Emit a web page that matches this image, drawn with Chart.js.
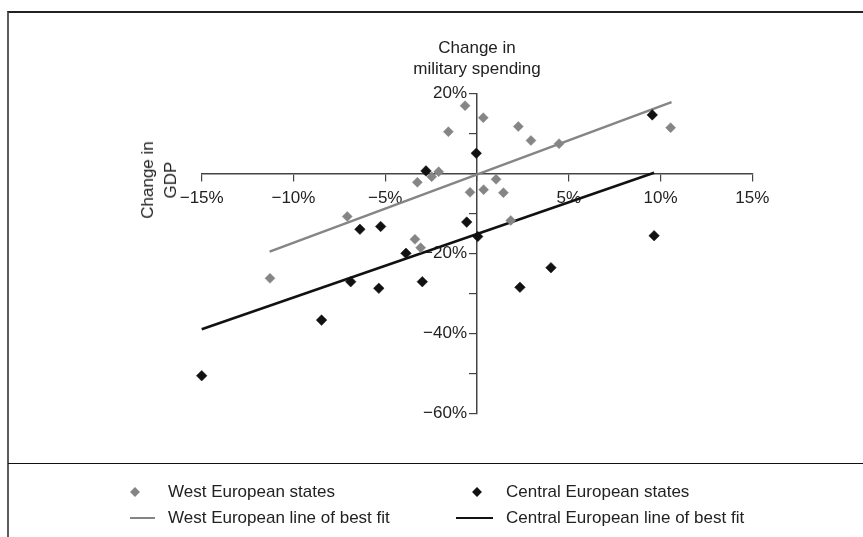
<!DOCTYPE html>
<html>
<head>
<meta charset="utf-8">
<script src="https://cdn.jsdelivr.net/npm/chart.js@4/dist/chart.umd.min.js"></script>
<style>
html,body{margin:0;padding:0;background:#fff;}
body{width:863px;height:537px;position:relative;overflow:hidden;font-family:"Liberation Sans",Arial,sans-serif;color:#222;}
#frame{position:absolute;left:7px;top:11px;width:880px;height:560px;border-left:2px solid #5c5c5c;border-top:2px solid #222;}
#sep{position:absolute;left:8px;top:463px;width:870px;height:0;border-top:1.5px solid #111;}
#c{position:absolute;left:0;top:0;}
.t{position:absolute;font-size:17px;white-space:nowrap;line-height:21px;color:#222;}
#ytitle{position:absolute;left:159px;top:180px;font-size:17px;line-height:23px;text-align:center;white-space:nowrap;transform:translate(-50%,-50%) rotate(-90deg);color:#222;}
.dia{position:absolute;width:7px;height:7px;transform:translate(-50%,-50%) rotate(45deg);}
.ln{position:absolute;height:0;}
</style>
</head>
<body>
<div id="frame"></div>
<div id="sep"></div>
<canvas id="c" width="863" height="537"></canvas>
<div class="t" style="left:377px;top:37px;width:200px;text-align:center;">Change in<br>military spending</div>
<div id="ytitle">Change in<br>GDP</div>

<div class="dia" style="left:135px;top:492px;background:#858585;"></div>
<div class="t" style="left:168px;top:481px;">West European states</div>
<div class="dia" style="left:477px;top:492px;background:#111;"></div>
<div class="t" style="left:506px;top:481px;">Central European states</div>
<div class="ln" style="left:130px;width:25px;top:517px;border-top:2.5px solid #858585;"></div>
<div class="t" style="left:168px;top:507px;">West European line of best fit</div>
<div class="ln" style="left:456px;width:37px;top:517px;border-top:2.5px solid #111;"></div>
<div class="t" style="left:506px;top:507px;">Central European line of best fit</div>

<script>
// Change in GDP (x, %) and change in military spending (y, %)
const westX = [-0.65, 0.34, -1.56, 2.25, 2.94, 4.47, 10.55, -2.09, -2.47, -3.25, 1.04, -0.38, 0.36, 1.44, 1.84, -7.07, -3.38, -3.07, -11.28];
const westY = [16.9, 13.9, 10.4, 11.7, 8.2, 7.4, 11.4, 0.4, -0.85, -2.25, -1.5, -4.75, -4.1, -4.85, -11.8, -10.8, -16.5, -18.6, -26.25];

const centralX = [9.55, -0.04, -2.78, -5.25, -6.38, -0.56, 0.04, -3.87, -2.98, -5.35, -6.88, -8.47, -15.0, 2.34, 4.03, 9.65];
const centralY = [14.6, 5.0, 0.6, -13.3, -14.0, -12.2, -15.8, -20.0, -27.1, -28.75, -27.1, -36.7, -50.6, -28.5, -23.6, -15.6];

// Lines of best fit (end points)
const westFitX = [-11.3, 10.6];
const westFitY = [-19.6, 17.8];
const centralFitX = [-15.0, 9.65];
const centralFitY = [-39.0, 0.15];

// Axis ticks
const xTicks = [-15, -10, -5, 0, 5, 10, 15];
const yTicks = [-60, -50, -40, -30, -20, -10, 0, 10, 20];
const yLabelled = [-60, -40, -20, 20];

const pts = (xs, ys) => xs.map((x, i) => ({x: x, y: ys[i]}));
const fmt = v => (v < 0 ? '\u2212' + Math.abs(v) : String(v)) + '%';
const FONT = {family: '"Liberation Sans", Arial, sans-serif', size: 17};

new Chart(document.getElementById('c'), {
  type: 'scatter',
  data: {
    datasets: [
      {label: 'West European states', data: pts(westX, westY), order: 0, clip: false,
       pointStyle: 'rectRot', pointRadius: 5, pointBackgroundColor: '#858585', pointBorderColor: '#858585', pointBorderWidth: 0.5},
      {label: 'Central European states', data: pts(centralX, centralY), order: 0, clip: false,
       pointStyle: 'rectRot', pointRadius: 5.3, pointBackgroundColor: '#111', pointBorderColor: '#111', pointBorderWidth: 0.5},
      {label: 'West European line of best fit', data: pts(westFitX, westFitY), order: 2, clip: false,
       showLine: true, pointRadius: 0, borderColor: '#858585', borderWidth: 2.5},
      {label: 'Central European line of best fit', data: pts(centralFitX, centralFitY), order: 2, clip: false,
       showLine: true, pointRadius: 0, borderColor: '#111', borderWidth: 2.5}
    ]
  },
  options: {
    responsive: false,
    animation: false,
    events: [],
    devicePixelRatio: 1,
    layout: {padding: {left: 201.7, right: 110.7, top: 93.3, bottom: 123.7}},
    plugins: {legend: {display: false}, tooltip: {enabled: false}, title: {display: false}},
    scales: {
      x: {
        type: 'linear', min: -15, max: 15, position: {y: 0},
        afterFit: s => { s.height = 0; },
        afterBuildTicks: s => { s.ticks = xTicks.map(v => ({value: v})); },
        ticks: {autoSkip: false, maxRotation: 0, padding: 8, color: '#222', font: FONT,
                callback: v => v === 0 ? '' : fmt(v)},
        grid: {drawOnChartArea: false, drawTicks: true, tickLength: 7, color: '#444', lineWidth: 1.2},
        border: {display: true, color: '#444', width: 1.5}
      },
      y: {
        type: 'linear', min: -60, max: 20, position: 'center',
        afterFit: s => { s.width = 0; },
        afterBuildTicks: s => { s.ticks = yTicks.map(v => ({value: v})); },
        ticks: {autoSkip: false, padding: 3, color: '#222', font: FONT,
                callback: v => yLabelled.includes(v) ? fmt(v) : ''},
        grid: {drawOnChartArea: false, drawTicks: true, tickLength: 7, color: '#444', lineWidth: 1.2},
        border: {display: true, color: '#444', width: 1.5}
      }
    }
  }
});
</script>
</body>
</html>
